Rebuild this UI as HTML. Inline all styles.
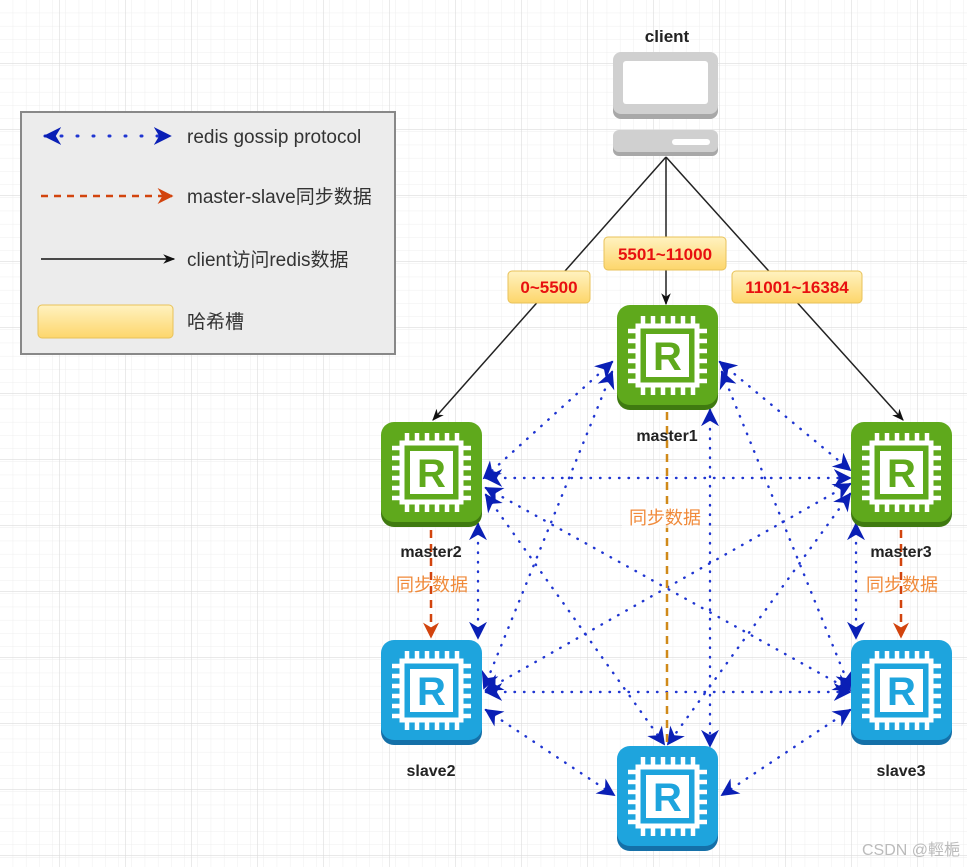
<!DOCTYPE html>
<html><head><meta charset="utf-8"><style>
html,body{margin:0;padding:0;background:#fff}
svg{display:block}
text{font-family:"Liberation Sans","Noto Sans CJK SC",sans-serif}
</style></head><body>
<svg width="967" height="867" viewBox="0 0 967 867" xmlns="http://www.w3.org/2000/svg">
<defs>
<pattern id="gmin" width="13.2" height="13.2" patternUnits="userSpaceOnUse"><path d="M13.2 0V13.2H0" fill="none" stroke="#eeeeee" stroke-width="1"/></pattern>
<pattern id="gmaj" width="66" height="66" patternUnits="userSpaceOnUse" x="-6" y="-2"><path d="M66 0V66H0" fill="none" stroke="#dcdcdc" stroke-width="1.2"/></pattern>
<marker id="ab2" viewBox="0 0 10 10" refX="9" refY="5" markerWidth="18" markerHeight="18" markerUnits="userSpaceOnUse" orient="auto-start-reverse"><path d="M0 0L10 5L0 10L3 5Z" fill="#0a1fb5"/></marker>
<marker id="ao" viewBox="0 0 10 10" refX="9" refY="5" markerWidth="16" markerHeight="16" markerUnits="userSpaceOnUse" orient="auto"><path d="M0 0L10 5L0 10L3 5Z" fill="#d2440e"/></marker>
<marker id="ak" viewBox="0 0 10 10" refX="9" refY="5" markerWidth="12" markerHeight="12" markerUnits="userSpaceOnUse" orient="auto"><path d="M0 1L10 5L0 9L3 5Z" fill="#111"/></marker>
<linearGradient id="yel" x1="0" y1="0" x2="0" y2="1"><stop offset="0" stop-color="#fff2c0"/><stop offset="1" stop-color="#fdd66b"/></linearGradient>
<g id="chipframe">
 <rect x="21" y="21" width="59" height="59" fill="none" stroke="#fff" stroke-width="5"/>
 <rect x="29" y="29" width="43" height="43" fill="#fff"/>
 <g stroke="#fff" stroke-width="4.5">
  <path d="M26 11v10M36 11v10M46 11v10M56 11v10M66 11v10M76 11v10"/>
  <path d="M26 80v10M36 80v10M46 80v10M56 80v10M66 80v10M76 80v10"/>
  <path d="M11 26h10M11 36h10M11 46h10M11 56h10M11 66h10M11 76h10"/>
  <path d="M80 26h10M80 36h10M80 46h10M80 56h10M80 66h10M80 76h10"/>
 </g>
</g>
</defs>
<rect width="967" height="867" fill="url(#gmin)"/>
<rect width="967" height="867" fill="url(#gmaj)"/>

<!-- legend -->
<rect x="21" y="112" width="374" height="242" fill="#ececec" stroke="#888" stroke-width="2"/>
<line x1="45" y1="136" x2="170" y2="136" stroke="#1f35d1" stroke-width="3" stroke-dasharray="1 15" stroke-linecap="round" marker-start="url(#ab2)" marker-end="url(#ab2)"/>
<text x="187" y="143" font-size="19" fill="#333">redis gossip protocol</text>
<line x1="41" y1="196" x2="172" y2="196" stroke="#d2440e" stroke-width="2.5" stroke-dasharray="7 6" marker-end="url(#ao)"/>
<text x="187" y="203" font-size="19" fill="#333">master-slave同步数据</text>
<line x1="41" y1="259" x2="174" y2="259" stroke="#111" stroke-width="1.5" marker-end="url(#ak)"/>
<text x="187" y="266" font-size="19" fill="#333">client访问redis数据</text>
<rect x="38" y="305" width="135" height="33" rx="4" fill="url(#yel)" stroke="#e8c25a"/>
<text x="187" y="328" font-size="19" fill="#333">哈希槽</text>

<!-- client -->
<text x="667" y="42" font-size="17" font-weight="bold" text-anchor="middle" fill="#222">client</text>
<rect x="613" y="55" width="105" height="64" rx="8" fill="#a8a8a8"/>
<rect x="613" y="52" width="105" height="62" rx="8" fill="#d0d0d0"/>
<rect x="623" y="61" width="85" height="43" rx="3" fill="#fff"/>
<rect x="613" y="132" width="105" height="24" rx="6" fill="#a8a8a8"/>
<rect x="613" y="130" width="105" height="22" rx="6" fill="#d0d0d0"/>
<rect x="672" y="139" width="38" height="6" rx="3" fill="#fff"/>

<!-- client lines -->
<line x1="666" y1="157" x2="433" y2="420" stroke="#222" stroke-width="1.5" marker-end="url(#ak)"/>
<line x1="666" y1="157" x2="666" y2="304" stroke="#222" stroke-width="1.5" marker-end="url(#ak)"/>
<line x1="666" y1="157" x2="903" y2="420" stroke="#222" stroke-width="1.5" marker-end="url(#ak)"/>

<!-- gossip -->
<g stroke="#1f35d1" stroke-width="2.4" stroke-dasharray="0.5 9" stroke-linecap="round" fill="none" marker-start="url(#ab2)" marker-end="url(#ab2)">
<line x1="612" y1="362" x2="484" y2="478"/>
<line x1="720" y1="362" x2="850" y2="470"/>
<line x1="612" y1="372" x2="484" y2="688"/>
<line x1="722" y1="372" x2="850" y2="688"/>
<line x1="710" y1="410" x2="710" y2="746"/>
<line x1="486" y1="478" x2="850" y2="478"/>
<line x1="478" y1="524" x2="478" y2="638"/>
<line x1="486" y1="488" x2="850" y2="690"/>
<line x1="486" y1="495" x2="664" y2="744"/>
<line x1="850" y1="484" x2="486" y2="690"/>
<line x1="856" y1="524" x2="856" y2="638"/>
<line x1="850" y1="494" x2="668" y2="744"/>
<line x1="486" y1="692" x2="850" y2="692"/>
<line x1="486" y1="710" x2="614" y2="795"/>
<line x1="850" y1="710" x2="722" y2="795"/>
</g>

<!-- sync lines -->
<line x1="667" y1="412" x2="667" y2="742" stroke="#d08a1a" stroke-width="2.5" stroke-dasharray="8 6"/>
<line x1="431" y1="530" x2="431" y2="637" stroke="#d2440e" stroke-width="2.5" stroke-dasharray="8 6" marker-end="url(#ao)"/>
<line x1="901" y1="530" x2="901" y2="637" stroke="#d2440e" stroke-width="2.5" stroke-dasharray="8 6" marker-end="url(#ao)"/>
<g font-size="18" fill="#f08a3a" text-anchor="middle">
<rect x="622" y="508" width="86" height="20" fill="#fff" opacity="0.7"/>
<text x="665" y="524">同步数据</text>
<text x="432" y="591">同步数据</text>
<text x="902" y="591">同步数据</text>
</g>

<!-- slot labels -->
<rect x="508" y="271" width="82" height="32" rx="4" fill="url(#yel)" stroke="#e8c25a"/>
<text x="549" y="293" font-size="17" font-weight="bold" fill="#e81010" text-anchor="middle">0~5500</text>
<rect x="604" y="237" width="122" height="33" rx="4" fill="url(#yel)" stroke="#e8c25a"/>
<text x="665" y="260" font-size="17" font-weight="bold" fill="#e81010" text-anchor="middle">5501~11000</text>
<rect x="732" y="271" width="130" height="32" rx="4" fill="url(#yel)" stroke="#e8c25a"/>
<text x="797" y="293" font-size="17" font-weight="bold" fill="#e81010" text-anchor="middle">11001~16384</text>

<!-- nodes -->
<g>
<g transform="translate(617,305)"><rect y="4" width="101" height="101" rx="13" fill="#3f7a10"/><rect width="101" height="100" rx="13" fill="#5fa91c"/><use href="#chipframe"/><text x="50.5" y="65" font-size="40" font-weight="bold" fill="#5fa91c" text-anchor="middle">R</text></g>
<g transform="translate(381,422)"><rect y="4" width="101" height="101" rx="13" fill="#3f7a10"/><rect width="101" height="100" rx="13" fill="#5fa91c"/><use href="#chipframe"/><text x="50.5" y="65" font-size="40" font-weight="bold" fill="#5fa91c" text-anchor="middle">R</text></g>
<g transform="translate(851,422)"><rect y="4" width="101" height="101" rx="13" fill="#3f7a10"/><rect width="101" height="100" rx="13" fill="#5fa91c"/><use href="#chipframe"/><text x="50.5" y="65" font-size="40" font-weight="bold" fill="#5fa91c" text-anchor="middle">R</text></g>
<g transform="translate(381,640)"><rect y="4" width="101" height="101" rx="13" fill="#1470a8"/><rect width="101" height="100" rx="13" fill="#1ea4dd"/><use href="#chipframe"/><text x="50.5" y="65" font-size="40" font-weight="bold" fill="#1ea4dd" text-anchor="middle">R</text></g>
<g transform="translate(851,640)"><rect y="4" width="101" height="101" rx="13" fill="#1470a8"/><rect width="101" height="100" rx="13" fill="#1ea4dd"/><use href="#chipframe"/><text x="50.5" y="65" font-size="40" font-weight="bold" fill="#1ea4dd" text-anchor="middle">R</text></g>
<g transform="translate(617,746)"><rect y="4" width="101" height="101" rx="13" fill="#1470a8"/><rect width="101" height="100" rx="13" fill="#1ea4dd"/><use href="#chipframe"/><text x="50.5" y="65" font-size="40" font-weight="bold" fill="#1ea4dd" text-anchor="middle">R</text></g>
</g>
<g font-size="16" font-weight="bold" fill="#222" text-anchor="middle">
<text x="667" y="441">master1</text>
<text x="431" y="557">master2</text>
<text x="901" y="557">master3</text>
<text x="431" y="776">slave2</text>
<text x="901" y="776">slave3</text>
</g>
<text x="960" y="855" font-size="16" fill="#bbb" text-anchor="end">CSDN @輕梔</text>
</svg>
</body></html>
